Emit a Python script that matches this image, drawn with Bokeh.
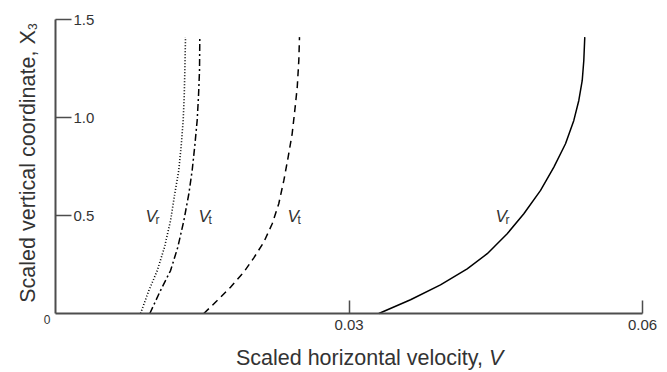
import math
from bokeh.plotting import figure
from bokeh.models import Range1d, FixedTicker, Label
from bokeh.embed import file_html
from bokeh.resources import INLINE

# ---- data ----
x_ticks = [0.03, 0.06]
y_ticks = [0.5, 1.0, 1.5]
y_tick_labels = ["0.5", "1.0", "1.5"]

# solid: V_r (far right)
solid_x = [0.03305, 0.03629, 0.03935, 0.04208, 0.04413, 0.04617, 0.04787, 0.04958,
           0.05094, 0.05213, 0.05298, 0.05349, 0.05384, 0.05400, 0.05410]
solid_y = [0.0, 0.070, 0.146, 0.228, 0.305, 0.407, 0.509, 0.628,
           0.747, 0.866, 0.985, 1.087, 1.189, 1.291, 1.410]

# dashed: V_t
dashed_x = [0.01516, 0.01653, 0.01789, 0.01925, 0.02027, 0.02129, 0.02215, 0.02282,
            0.02334, 0.02378, 0.02419, 0.02446, 0.02471, 0.02487, 0.02494]
dashed_y = [0.0, 0.066, 0.134, 0.211, 0.284, 0.364, 0.458, 0.560,
            0.679, 0.798, 0.917, 1.036, 1.155, 1.291, 1.410]

# dash-dot: V_t
dashdot_x = [0.00964, 0.01073, 0.01176, 0.01250, 0.01312, 0.01363, 0.01397, 0.01424,
             0.01448, 0.01462, 0.01472, 0.01475]
dashdot_y = [0.0, 0.117, 0.219, 0.338, 0.474, 0.611, 0.730, 0.857,
             0.985, 1.112, 1.240, 1.410]

# dotted: V_r
dotted_x = [0.00869, 0.00954, 0.01040, 0.01114, 0.01176, 0.01219, 0.01260, 0.01285,
            0.01305, 0.01316, 0.01322, 0.01329]
dotted_y = [0.0, 0.117, 0.219, 0.338, 0.474, 0.611, 0.730, 0.857,
            0.985, 1.112, 1.240, 1.410]

# curve labels: main letter, subscript, anchor (data coords)
curve_label_main = ["V", "V", "V", "V"]
curve_label_sub = ["r", "t", "t", "r"]
curve_label_x = [0.0092, 0.01462, 0.02371, 0.04498]
curve_label_y = [0.494, 0.494, 0.494, 0.494]

x_label_text = "Scaled horizontal velocity, "
x_label_var = "V"
y_label_text = "Scaled vertical coordinate, "
y_label_var = "X"
y_label_sub = "3"

FONT = "Liberation Sans"
TXT = "#333333"
AX = "#4d4d4d"

# frame covers the whole canvas; axes are pinned at the data origin
p = figure(width=667, height=372,
           x_range=Range1d(-0.005622, 0.062555), y_range=Range1d(-0.30102, 1.59694),
           output_backend="svg", toolbar_location=None,
           min_border_left=0, min_border_right=0, min_border_top=0, min_border_bottom=0)
p.outline_line_color = None
p.xgrid.visible = False
p.ygrid.visible = False
p.background_fill_color = "white"
p.border_fill_color = "white"

# x axis
xa = p.xaxis[0]
xa.fixed_location = 0
xa.bounds = (0, 0.06)
xa.ticker = FixedTicker(ticks=x_ticks)
xa.major_tick_in = 13
xa.major_tick_out = 0
xa.minor_tick_line_color = None
xa.axis_line_color = AX
xa.axis_line_width = 2
xa.major_tick_line_color = AX
xa.major_tick_line_width = 1.5
xa.major_label_standoff = 6
xa.major_label_text_font = FONT
xa.major_label_text_font_size = "15px"
xa.major_label_text_color = TXT

# y axis (labels drawn inside, to the right of the ticks)
ya = p.yaxis[0]
ya.fixed_location = 0
ya.bounds = (0, 1.5)
ya.ticker = FixedTicker(ticks=y_ticks)
ya.major_tick_in = 16
ya.major_tick_out = 0
ya.minor_tick_line_color = None
ya.axis_line_color = AX
ya.axis_line_width = 2
ya.major_tick_line_color = AX
ya.major_tick_line_width = 1.5
ya.major_label_text_color = None

for t, lab in zip(y_ticks, y_tick_labels):
    p.add_layout(Label(x=0, y=t, x_offset=18, text=lab, text_align="left",
                       text_baseline="middle", text_font=FONT, text_font_size="15px",
                       text_color=TXT))

p.add_layout(Label(x=-0.00087, y=-0.031, text="0", text_align="center",
                   text_baseline="middle", text_font=FONT, text_font_size="12px",
                   text_color=TXT))

# curves
p.line(solid_x, solid_y, line_color="black", line_width=1.5)
p.line(dashed_x, dashed_y, line_color="black", line_width=1.5, line_dash="7 5")
p.line(dashdot_x, dashdot_y, line_color="black", line_width=1.5, line_dash="7 3 2 3")
p.line(dotted_x, dotted_y, line_color="black", line_width=1.6, line_dash="1 2")

for m, s, lx, ly in zip(curve_label_main, curve_label_sub, curve_label_x, curve_label_y):
    p.add_layout(Label(x=lx, y=ly, text=m, text_align="left", text_baseline="alphabetic",
                       text_font=FONT, text_font_size="17px", text_font_style="italic",
                       text_color=TXT))
    p.add_layout(Label(x=lx, y=ly - 0.015, x_offset=10, text=s, text_align="left",
                       text_baseline="alphabetic", text_font=FONT, text_font_size="12px",
                       text_color=TXT))

# axis titles
p.add_layout(Label(x=0.0443, y=-0.2245, text=x_label_text, text_align="right",
                   text_baseline="alphabetic", text_font=FONT, text_font_size="21.5px",
                   text_color=TXT))
p.add_layout(Label(x=0.0443, y=-0.2245, text=x_label_var, text_align="left",
                   text_baseline="alphabetic", text_font=FONT, text_font_size="21.5px",
                   text_font_style="italic", text_color=TXT))

p.add_layout(Label(x=-0.00286, y=1.372, angle=math.pi / 2, text=y_label_text,
                   text_align="right", text_baseline="alphabetic", text_font=FONT,
                   text_font_size="21.5px", text_color=TXT))
p.add_layout(Label(x=-0.00286, y=1.372, angle=math.pi / 2, text=y_label_var,
                   text_align="left", text_baseline="alphabetic", text_font=FONT,
                   text_font_size="21.5px", text_color=TXT))
p.add_layout(Label(x=-0.00235, y=1.447, angle=math.pi / 2, text=y_label_sub,
                   text_align="left", text_baseline="alphabetic", text_font=FONT,
                   text_font_size="12px", text_color=TXT))

open("out.html", "w").write(file_html(p, INLINE))
